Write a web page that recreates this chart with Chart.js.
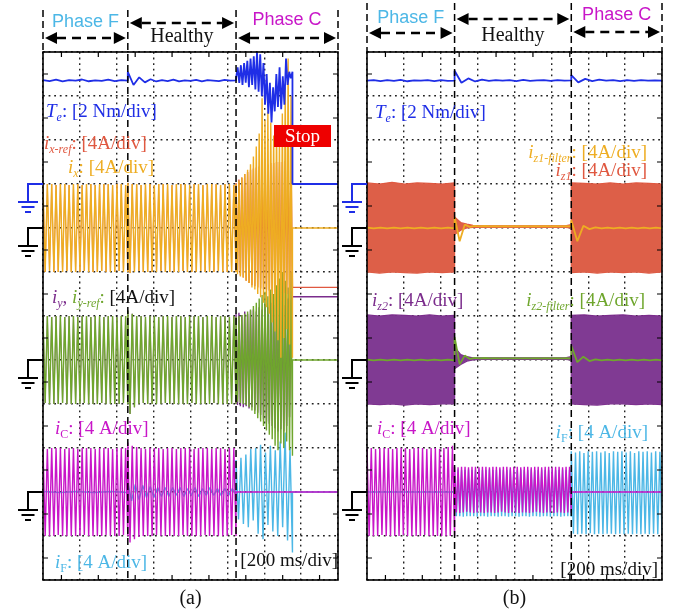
<!DOCTYPE html>
<html>
<head>
<meta charset="utf-8">
<script src="https://cdn.jsdelivr.net/npm/chart.js@4.4.0/dist/chart.umd.min.js"></script>
<style>
  html, body { margin: 0; padding: 0; background: #fff; }
  #wrap { position: relative; width: 678px; height: 615px; }
  canvas { position: absolute; top: 0; }
  #chartA { left: 0; }
  #chartB { left: 340px; }
</style>
</head>
<body>
<div id="wrap">
  <canvas id="chartA" width="340" height="615"></canvas>
  <canvas id="chartB" width="338" height="615"></canvas>
</div>
<script>
// scope time base: 8 div x 200 ms
const timeRange = [0, 1600];
// segment edges (ms): Phase F | Healthy | Phase C | stop
const edgesA = [0, 460, 1047, 1353, 1600];
const edgesB = [0, 475, 1108, 1600];
const regionNames = ["Phase F", "Healthy", "Phase C"];

// ---- (a) Te [Nm]
const teA_F = [4.72, 4.68, 4.74, 4.66, 4.72, 4.7, 4.75, 4.67, 4.71, 4.69, 4.74, 4.68, 4.72, 4.7];
const teA_H = [5.1, 4.5, 4.85, 4.62, 4.76, 4.66, 4.72, 4.68, 4.74, 4.66, 4.71, 4.69, 4.73, 4.67, 4.72, 4.7, 4.68, 4.73, 4.7, 4.71];
const teA_C = [4.8, 5.3, 4.6, 5.4, 4.5, 5.5, 4.6, 5.6, 4.4, 5.7, 4.5, 5.8, 4.3, 6.0, 4.2, 5.9, 4.0, 5.5,
  3.6, 5.0, 3.2, 4.6, 2.8, 4.4, 3.3, 5.0, 3.5, 5.3, 3.4, 4.9, 3.6, 5.7, 4.5, 5.1, 4.8, 5.1];
const teA_S = [0, 0];

// ---- (a) ix / ix-ref [A]
const ixA_F = [3.9, -4.0, 4.0, -3.9, 4.0, -4.0, 3.9, -4.0, 4.0, -4.0,
  4.0, -3.9, 3.9, -4.0, 4.0, -4.0, 4.0, -4.0, 3.9, -3.9,
  4.0, -4.0, 4.0, -4.0, 3.9, -4.0, 4.0, -3.9, 4.0, -4.0,
  4.0, -4.0, 3.9, -4.0, 4.0, -3.9, 4.0, -4.0, 3.9, -4.0];
const ixA_H = [4.1, -4.1, 4.0, -4.0, 4.0, -3.9, 3.9, -4.0, 4.0, -4.0,
  4.0, -4.0, 3.9, -4.0, 4.0, -3.9, 4.0, -4.0, 4.0, -4.0,
  3.9, -4.0, 4.0, -4.0, 4.0, -3.9, 4.0, -4.0, 3.9, -4.0,
  4.0, -4.0, 4.0, -3.9, 3.9, -4.0, 4.0, -4.0, 4.0, -4.0,
  4.0, -3.9, 3.9, -4.0, 4.0, -4.0, 4.0, -4.0, 3.9, -4.0];
const ixA_C = [4.0, -4.2, 4.3, -4.4, 4.6, -4.5, 4.9, -4.8, 5.3, -5.0,
  5.8, -5.4, 6.5, -5.6, 7.4, -6.0, 8.6, -6.3, 11.8, -6.8,
  9.8, -7.2, 10.6, -7.8, 9.6, -8.6, 8.4, -9.4, 9.2, -10.2,
  7.8, -11.8, 10.4, -10.0, 12.8, -9.2, 15.4, -10.6, 12.0, -11.8];
const ixA_S = [0, 0];
const ixRefA_C = [4.1, -4.0, 4.4, -4.3, 4.6, -4.5, 4.9, -4.8, 5.1, -5.0,
  5.3, -5.2, 5.4, -5.3, 5.5, -5.4, 5.6, -5.5, 5.7, -5.6,
  5.8, -5.6, 5.8, -5.7, 5.9, -5.7, 5.9, -5.8, 6.0, -5.8,
  6.0, -5.9, 6.0, -5.9, 6.1, -6.0, 6.1, -6.0, 6.1, -5.4];
const ixRefA_S = [-5.4, -5.4];

// ---- (a) iy / iy-ref [A]
const iyA_F = [4.0, -3.9, 4.0, -4.0, 3.9, -4.0, 4.0, -4.0, 4.0, -3.9,
  3.9, -4.0, 4.0, -4.0, 4.0, -4.0, 3.9, -4.0, 4.0, -3.9,
  4.0, -4.0, 3.9, -4.0, 4.0, -4.0, 4.0, -3.9, 3.9, -4.0,
  4.0, -4.0, 4.0, -4.0, 3.9, -4.0, 4.0, -3.9, 4.0, -4.0];
const iyA_H = [4.5, -4.9, 4.2, -4.3, 4.0, -4.0, 4.0, -3.9, 3.9, -4.0,
  4.0, -4.0, 4.0, -4.0, 3.9, -4.0, 4.0, -3.9, 4.0, -4.0,
  3.9, -4.0, 4.0, -4.0, 4.0, -4.0, 3.9, -4.0, 4.0, -3.9,
  4.0, -4.0, 4.0, -4.0, 3.9, -4.0, 4.0, -4.0, 4.0, -3.9,
  3.9, -4.0, 4.0, -4.0, 4.0, -4.0, 3.9, -4.0, 4.0, -4.0];
const iyA_C = [4.2, -4.1, 4.3, -4.2, 4.1, -4.3, 4.4, -4.2, 4.2, -4.4,
  4.5, -4.3, 4.6, -4.6, 4.4, -4.8, 4.8, -5.0, 4.6, -5.4,
  5.0, -5.6, 4.8, -5.8, 5.2, -6.0, 5.0, -6.2, 5.3, -6.5,
  5.1, -6.3, 5.4, -6.5, 5.0, -6.0, 5.6, -5.2, 5.4, 5.75];
const iyA_S = [5.75, 5.75];
const iyRefA_C = [3.9, -3.8, 4.0, -3.9, 4.1, -4.0, 4.2, -4.1, 4.4, -4.3,
  4.6, -4.6, 4.9, -4.9, 5.2, -5.3, 5.6, -5.6, 5.9, -6.0,
  6.2, -6.4, 5.8, -6.8, 6.4, -7.2, 6.0, -7.8, 6.8, -8.2,
  7.4, -7.6, 8.0, -8.0, 7.2, -7.4, 6.6, -8.2, 8.0, -8.7];
const iyRefA_S = [0, 0];

// ---- (a) iC / iF [A]
const iCA_F = [4.0, -4.0, 3.9, -4.0, 4.0, -4.0, 4.0, -3.9, 4.0, -4.0,
  3.9, -4.0, 4.0, -4.0, 4.0, -4.0, 3.9, -4.0, 4.0, -3.9,
  4.0, -4.0, 4.0, -4.0, 3.9, -4.0, 4.0, -4.0, 4.0, -3.9,
  4.0, -4.0, 3.9, -4.0, 4.0, -4.0, 4.0, -3.9, 4.0, -4.0];
const iCA_H = [4.5, -4.6, 4.2, -4.3, 4.1, -4.1, 4.0, -4.0, 3.9, -4.0,
  4.0, -4.0, 4.0, -3.9, 4.0, -4.0, 3.9, -4.0, 4.0, -4.0,
  4.0, -4.0, 3.9, -4.0, 4.0, -3.9, 4.0, -4.0, 4.0, -4.0,
  3.9, -4.0, 4.0, -4.0, 4.0, -3.9, 4.0, -4.0, 3.9, -4.0,
  4.0, -4.0, 4.0, -4.0, 3.9, -4.0, 4.0, -3.9, 4.0, -4.0];
const iCA_C = [0, 0];
const iCA_S = [0, 0];
const iFA_F = [0.05, -0.05, 0.05, -0.05, 0.05, -0.05];
const iFA_H = [0.9, -0.8, 0.7, -0.7, 0.6, -0.5, 0.5, -0.5, 0.4, -0.4, 0.4, -0.4, 0.4, -0.3, 0.4,
  -0.4, 0.3, -0.3, 0.4, -0.4, 0.3, -0.3, 0.4, -0.3, 0.3, -0.3, 0.3, -0.3, 0.3, -0.2];
const iFA_C = [2.9, -2.5, 3.1, -2.9, 3.4, -3.2, 3.9, -2.6, 4.0, -3.8, 4.3, -4.3,
  3.6, -3.0, 4.2, -3.6, 3.8, -4.0, 4.6, -3.2, 5.4, -4.4, 4.0, -5.5];
const iFA_S = [0, 0];

// ---- (b) Te [Nm]
const teB_F = [4.7, 4.72, 4.68, 4.72, 4.69, 4.73, 4.67, 4.71, 4.7, 4.72, 4.68, 4.72, 4.69, 4.7];
const teB_H = [5.15, 4.6, 4.8, 4.66, 4.74, 4.69, 4.72, 4.7, 4.72, 4.68, 4.73, 4.69, 4.71, 4.72, 4.69, 4.72, 4.7, 4.71];
const teB_C = [4.95, 4.62, 4.78, 4.68, 4.74, 4.7, 4.72, 4.68, 4.72, 4.69, 4.72, 4.7, 4.71, 4.7];

// ---- (b) iz1 envelope (upper / lower) and iz1-filter [A]
const iz1UpB_F = [4.1, 4.0, 4.15, 4.0, 4.1, 4.05, 4.0, 4.1];
const iz1LoB_F = [-4.0, -4.1, -4.0, -4.05, -4.1, -4.0, -4.05, -4.0];
const iz1UpB_H = [1.0, 0.5, 0.35, 0.25, 0.2, 0.2, 0.2, 0.2, 0.2, 0.2, 0.2, 0.2, 0.2, 0.2, 0.2, 0.2, 0.2, 0.2, 0.2, 0.3];
const iz1LoB_H = [-0.6, -0.2, 0.0, 0.05, 0.05, 0.05, 0.05, 0.05, 0.05, 0.05, 0.05, 0.05, 0.05, 0.05, 0.05, 0.05, 0.05, 0.05, 0.05, 0.0];
const iz1UpB_C = [4.1, 4.05, 4.0, 4.1, 4.0, 4.1, 4.05, 4.0];
const iz1LoB_C = [-4.05, -4.0, -4.1, -4.0, -4.05, -4.0, -4.1, -4.0];
const iz1FiltB_F = [0.03, -0.03, 0.04, -0.03, 0.03, -0.03, 0.04, -0.04, 0.03, -0.03, 0.04, -0.03, 0.03, -0.03];
const iz1FiltB_H = [1.0, -1.2, 0.3, 0.1, 0.2, 0.14, 0.18, 0.15, 0.17, 0.15, 0.17, 0.15,
  0.17, 0.15, 0.17, 0.15, 0.17, 0.15, 0.17, 0.15, 0.17, 0.15, 0.17, 0.15];
const iz1FiltB_C = [0.7, -1.2, 0.2, -0.1, 0.06, -0.04, 0.04, -0.03, 0.03, -0.03, 0.03, -0.03, 0.03, -0.03, 0.03, -0.03];

// ---- (b) iz2 envelope (upper / lower) and iz2-filter [A]
const iz2UpB_F = [4.1, 4.0, 4.1, 4.05, 4.0, 4.1, 4.0, 4.05];
const iz2LoB_F = [-4.0, -4.05, -4.0, -4.1, -4.0, -4.05, -4.0, -4.0];
const iz2UpB_H = [1.2, 0.5, 0.3, 0.2, 0.2, 0.2, 0.2, 0.2, 0.2, 0.2, 0.2, 0.2, 0.2, 0.2, 0.2, 0.2, 0.2, 0.2, 0.2, 0.3];
const iz2LoB_H = [-0.8, -0.4, -0.1, 0.0, 0.05, 0.05, 0.05, 0.05, 0.05, 0.05, 0.05, 0.05, 0.05, 0.05, 0.05, 0.05, 0.05, 0.05, 0.05, 0.0];
const iz2UpB_C = [4.05, 4.1, 4.0, 4.05, 4.1, 4.0, 4.05, 4.0];
const iz2LoB_C = [-4.0, -4.05, -4.1, -4.0, -4.0, -4.05, -4.0, -4.05];
const iz2FiltB_F = [0.03, -0.04, 0.03, -0.03, 0.04, -0.03, 0.03, -0.03, 0.03, -0.04, 0.03, -0.03, 0.04, -0.03];
const iz2FiltB_H = [2.1, -0.4, 0.4, 0.1, 0.2, 0.14, 0.18, 0.15, 0.17, 0.15, 0.17, 0.15,
  0.17, 0.15, 0.17, 0.15, 0.17, 0.15, 0.17, 0.15, 0.17, 0.15, 0.17, 0.15];
const iz2FiltB_C = [1.3, -0.2, 0.3, -0.1, 0.06, -0.04, 0.04, -0.03, 0.03, -0.03, 0.03, -0.03, 0.03, -0.03, 0.03, -0.03];

// ---- (b) iC / iF [A]
const iCB_F = [4.0, -4.0, 4.0, -4.0, 3.9, -4.0, 4.0, -3.9, 4.0, -4.0,
  4.0, -4.0, 3.9, -4.0, 4.0, -4.0, 4.0, -3.9, 4.0, -4.0,
  3.9, -4.0, 4.0, -4.0, 4.0, -4.0, 4.0, -3.9, 3.9, -4.0,
  4.0, -4.0, 4.0, -4.0, 3.9, -4.0, 4.0, -4.0, 4.1, -4.0,
  4.2, -4.0];
const iCB_H = [2.3, -1.85, 2.25, -1.9, 2.3, -1.85, 2.3, -1.8, 2.25, -1.85,
  2.3, -1.9, 2.3, -1.85, 2.25, -1.85, 2.3, -1.9, 2.3, -1.85,
  2.25, -1.85, 2.3, -1.9, 2.3, -1.85, 2.25, -1.8, 2.3, -1.85,
  2.3, -1.9, 2.25, -1.85, 2.3, -1.85, 2.3, -1.9, 2.25, -1.85,
  2.3, -1.85, 2.3, -1.9, 2.25, -1.85, 2.3, -1.8, 2.3, -1.85,
  2.25, -1.9, 2.3, -1.85, 2.3, -1.85, 2.25, -1.9, 2.3, -1.85,
  2.3, -1.85, 2.25, -1.9, 2.3, -1.85, 2.3, -1.9];
const iCB_C = [0, 0];
const iFB_F = [0, 0];
const iFB_H = [2.0, -2.2, 2.05, -2.2, 2.0, -2.25, 2.0, -2.2, 2.05, -2.2,
  2.0, -2.2, 2.0, -2.25, 2.05, -2.2, 2.0, -2.2, 2.0, -2.25,
  2.05, -2.2, 2.0, -2.2, 2.0, -2.25, 2.05, -2.2, 2.0, -2.2,
  2.0, -2.25, 2.05, -2.2, 2.0, -2.2, 2.0, -2.25, 2.05, -2.2,
  2.0, -2.2, 2.0, -2.25, 2.05, -2.2, 2.0, -2.2, 2.0, -2.25,
  2.05, -2.2, 2.0, -2.2, 2.0, -2.25, 2.05, -2.2, 2.0, -2.2,
  2.0, -2.25, 2.05, -2.2, 2.0, -2.2, 2.0, -2.25];
const iFB_C = [3.7, -3.8, 3.6, -3.85, 3.7, -3.8, 3.55, -3.85, 3.7, -3.75,
  3.65, -3.85, 3.7, -3.8, 3.6, -3.85, 3.7, -3.8, 3.55, -3.8,
  3.7, -3.85, 3.65, -3.8, 3.7, -3.85, 3.6, -3.8, 3.7, -3.85,
  3.55, -3.8, 3.7, -3.85, 3.65, -3.8, 3.7, -3.85, 3.6, -3.8,
  3.7, -3.85, 3.65, -3.8];

const BLUE = "#1f2ee6", ORANGE = "#eead22", RED = "#e05840", PURPLE = "#7b2c8c",
  GREEN = "#6fa62d", MAGENTA = "#c816c8", SKY = "#4cb7e6", BLACK = "#111";

// channel ground levels in divisions from the bottom (12 div screen)
const GND_TE = 9, GND_X = 8, GND_Y = 5, GND_CF = 2;

function trace(edges, parts, ground, perDiv) {
  const pts = [];
  parts.forEach((vals, k) => {
    const t0 = edges[k], t1 = edges[k + 1], n = vals.length;
    vals.forEach((v, i) => {
      pts.push({ x: t0 + ((t1 - t0) * i) / (n - 1), y: ground + v / perDiv });
    });
  });
  return pts;
}

function line(data, color, width, extra) {
  return Object.assign({
    data,
    borderColor: color,
    backgroundColor: color,
    borderWidth: width || 1.4,
    borderJoinStyle: "bevel",
    pointRadius: 0,
    tension: 0,
    fill: false,
  }, extra || {});
}

// traces hidden under another one until the fault: keep them thin there
const thinBefore = (t) => ({
  segment: { borderWidth: (c) => (c.p0.parsed.x < t ? 0.7 : 1.4) },
});

const R = (t, c, style) => ({ t, c, it: (style || "").includes("i"), sub: (style || "").includes("s") });

function richText(ctx, runs, x, y, align) {
  const fontOf = (r) => (r.it ? "italic " : "") + (r.sub ? 12 : 19) + 'px "Liberation Serif"';
  let w = 0;
  runs.forEach((r) => { ctx.font = fontOf(r); w += ctx.measureText(r.t).width; });
  let cx = align === "right" ? x - w : x;
  ctx.textBaseline = "alphabetic";
  ctx.textAlign = "left";
  runs.forEach((r) => {
    ctx.font = fontOf(r);
    ctx.fillStyle = r.c;
    ctx.fillText(r.t, cx, y + (r.sub ? 4 : 0));
    cx += ctx.measureText(r.t).width;
  });
}

function arrow(ctx, x0, x1, y) {
  const h = 12, w = 6;
  ctx.save();
  ctx.strokeStyle = "#000";
  ctx.lineWidth = 2.4;
  ctx.setLineDash([9, 6]);
  ctx.beginPath(); ctx.moveTo(x0 + h, y); ctx.lineTo(x1 - h, y); ctx.stroke();
  ctx.setLineDash([]);
  ctx.fillStyle = "#000";
  ctx.beginPath(); ctx.moveTo(x0, y); ctx.lineTo(x0 + h, y - w); ctx.lineTo(x0 + h, y + w); ctx.closePath(); ctx.fill();
  ctx.beginPath(); ctx.moveTo(x1, y); ctx.lineTo(x1 - h, y - w); ctx.lineTo(x1 - h, y + w); ctx.closePath(); ctx.fill();
  ctx.restore();
}

function ground(ctx, xr, y, color) {
  const xl = xr - 15;
  ctx.save();
  ctx.strokeStyle = color;
  ctx.lineWidth = 2;
  ctx.beginPath();
  ctx.moveTo(xr, y); ctx.lineTo(xl, y); ctx.lineTo(xl, y + 18);
  ctx.moveTo(xl - 10, y + 18); ctx.lineTo(xl + 10, y + 18);
  ctx.moveTo(xl - 6.5, y + 23); ctx.lineTo(xl + 6.5, y + 23);
  ctx.moveTo(xl - 3, y + 28); ctx.lineTo(xl + 3, y + 28);
  ctx.stroke();
  ctx.restore();
}

function scopePlugin(cfg) {
  return {
    id: "scope",
    afterDatasetsDraw(chart) {
      const { ctx, chartArea: a, scales } = chart;
      const xs = scales.x, ys = scales.y;
      ctx.save();
      // frame
      ctx.strokeStyle = "#000";
      ctx.lineWidth = 1.6;
      ctx.strokeRect(a.left, a.top, a.right - a.left, a.bottom - a.top);
      // minor ticks at half divisions
      ctx.lineWidth = 1.2;
      ctx.beginPath();
      for (let t = 100; t < 1600; t += 200) {
        const px = xs.getPixelForValue(t);
        ctx.moveTo(px, a.bottom); ctx.lineTo(px, a.bottom - 5);
        ctx.moveTo(px, a.top); ctx.lineTo(px, a.top + 5);
      }
      for (let d = 0.5; d < 12; d += 1) {
        const py = ys.getPixelForValue(d);
        ctx.moveTo(a.left, py); ctx.lineTo(a.left + 5, py);
        ctx.moveTo(a.right, py); ctx.lineTo(a.right - 5, py);
      }
      ctx.stroke();
      // region boundaries
      const bx = cfg.edges.slice(0, 4).map((t) => xs.getPixelForValue(t));
      bx[3] = a.right;
      ctx.lineWidth = 1.5;
      ctx.setLineDash([7, 4]);
      ctx.beginPath();
      [bx[1], bx[2]].forEach((px) => { ctx.moveTo(px, cfg.topY); ctx.lineTo(px, a.bottom); });
      [a.left, a.right].forEach((px) => { ctx.moveTo(px, cfg.topY); ctx.lineTo(px, a.top); });
      ctx.stroke();
      ctx.setLineDash([]);
      // region arrows and names
      for (let k = 0; k < 3; k++) {
        arrow(ctx, bx[k] + 2, bx[k + 1] - 2, cfg.arrowY[k]);
        const cx = (bx[k] + bx[k + 1]) / 2;
        ctx.textAlign = "center";
        ctx.textBaseline = "middle";
        if (k === 1) {
          ctx.font = '20px "Liberation Serif"';
          ctx.fillStyle = BLACK;
        } else {
          ctx.font = '18px "Liberation Sans"';
          ctx.fillStyle = k === 0 ? SKY : MAGENTA;
        }
        ctx.fillText(regionNames[k], cx, cfg.nameY[k]);
      }
      // ground markers
      ground(ctx, a.left, ys.getPixelForValue(GND_TE), BLUE);
      [GND_X, GND_Y, GND_CF].forEach((g) => ground(ctx, a.left, ys.getPixelForValue(g), "#000"));
      // channel labels
      cfg.labels.forEach((l) => richText(ctx, l.runs, l.x, l.y, l.align));
      // stop marker
      if (cfg.stop) {
        const s = cfg.stop;
        ctx.fillStyle = "#ee0000";
        ctx.fillRect(s.x, s.y, s.w, s.h);
        ctx.fillStyle = "#fff";
        ctx.font = '19px "Liberation Serif"';
        ctx.textAlign = "center";
        ctx.textBaseline = "middle";
        ctx.fillText("Stop", s.x + s.w / 2, s.y + s.h / 2 + 1);
      }
      // caption
      ctx.fillStyle = BLACK;
      ctx.font = '20px "Liberation Serif"';
      ctx.textAlign = "center";
      ctx.textBaseline = "alphabetic";
      ctx.fillText(cfg.caption, (a.left + a.right) / 2, 604);
      ctx.restore();
    },
  };
}

function makeChart(id, datasets, padding, cfg) {
  const gridOpts = { color: "#222", lineWidth: 1.4, drawTicks: false };
  return new Chart(document.getElementById(id), {
    type: "line",
    data: { datasets },
    options: {
      responsive: false,
      animation: false,
      devicePixelRatio: 1,
      events: [],
      layout: { padding },
      plugins: { legend: { display: false }, tooltip: { enabled: false } },
      scales: {
        x: {
          type: "linear", min: timeRange[0], max: timeRange[1],
          ticks: { display: false, stepSize: 200 },
          grid: gridOpts, border: { display: false, dash: [1.8, 3.8] },
        },
        y: {
          min: 0, max: 12,
          ticks: { display: false, stepSize: 1 },
          grid: gridOpts, border: { display: false, dash: [1.8, 3.8] },
        },
      },
    },
    plugins: [scopePlugin(cfg)],
  });
}

// ---------- panel (a)
const dsA = [
  line(trace(edgesA, [teA_F, teA_H, teA_C, teA_S], GND_TE, 2), BLUE, 1.8),
  line(trace(edgesA, [ixA_F, ixA_H, ixA_C, ixA_S], GND_X, 4), ORANGE),
  line(trace(edgesA, [ixA_F, ixA_H, ixRefA_C, ixRefA_S], GND_X, 4), RED, 1.4, thinBefore(edgesA[2])),
  line(trace(edgesA, [iyA_F, iyA_H, iyRefA_C, iyRefA_S], GND_Y, 4), GREEN),
  line(trace(edgesA, [iyA_F, iyA_H, iyA_C, iyA_S], GND_Y, 4), PURPLE, 1.4, thinBefore(edgesA[2])),
  line(trace(edgesA, [iCA_F, iCA_H, iCA_C, iCA_S], GND_CF, 4), MAGENTA),
  line(trace(edgesA, [iFA_F, iFA_H, iFA_C, iFA_S], GND_CF, 4), SKY),
];

makeChart("chartA", dsA, { left: 43, right: 2, top: 52, bottom: 35 }, {
  edges: edgesA, topY: 10, arrowY: [38, 23, 38], nameY: [22, 37, 20],
  stop: { x: 274, y: 125, w: 57, h: 22 },
  caption: "(a)",
  labels: [
    { x: 46, y: 117, runs: [R("T", BLUE, "i"), R("e", BLUE, "is"), R(": [2 Nm/div]", BLUE)] },
    { x: 44, y: 149, runs: [R("i", RED, "i"), R("x-ref", RED, "is"), R(": [4A/div]", RED)] },
    { x: 68, y: 173, runs: [R("i", ORANGE, "i"), R("x", ORANGE, "is"), R(": [4A/div]", ORANGE)] },
    { x: 52, y: 303, runs: [R("i", PURPLE, "i"), R("y", PURPLE, "is"), R(", ", PURPLE),
      R("i", GREEN, "i"), R("y-ref", GREEN, "is"), R(": ", GREEN), R("[4A/div]", BLACK)] },
    { x: 55, y: 434, runs: [R("i", MAGENTA, "i"), R("C", MAGENTA, "s"), R(": [4 A/div]", MAGENTA)] },
    { x: 55, y: 568, runs: [R("i", SKY, "i"), R("F", SKY, "s"), R(": [4 A/div]", SKY)] },
    { x: 338, y: 566, align: "right", runs: [R("[200 ms/div]", BLACK)] },
  ],
});

// ---------- panel (b)
const dsB = [
  line(trace(edgesB, [teB_F, teB_H, teB_C], GND_TE, 2), BLUE, 1.8),
  line(trace(edgesB, [iz1FiltB_F, iz1FiltB_H, iz1FiltB_C], GND_X, 4), ORANGE, 1.8),
  line(trace(edgesB, [iz1UpB_F, iz1UpB_H, iz1UpB_C], GND_X, 4), RED, 1.2, { fill: "+1", backgroundColor: "#dd5f48" }),
  line(trace(edgesB, [iz1LoB_F, iz1LoB_H, iz1LoB_C], GND_X, 4), RED, 1.2),
  line(trace(edgesB, [iz2FiltB_F, iz2FiltB_H, iz2FiltB_C], GND_Y, 4), GREEN, 1.8),
  line(trace(edgesB, [iz2UpB_F, iz2UpB_H, iz2UpB_C], GND_Y, 4), PURPLE, 1.2, { fill: "+1", backgroundColor: "#803a93" }),
  line(trace(edgesB, [iz2LoB_F, iz2LoB_H, iz2LoB_C], GND_Y, 4), PURPLE, 1.2),
  line(trace(edgesB, [iCB_F, iCB_H, iCB_C], GND_CF, 4), MAGENTA),
  line(trace(edgesB, [iFB_F, iFB_H, iFB_C], GND_CF, 4), SKY),
];

makeChart("chartB", dsB, { left: 27, right: 16, top: 52, bottom: 35 }, {
  edges: edgesB, topY: 3, arrowY: [33, 19, 32], nameY: [18, 36, 15],
  stop: null,
  caption: "(b)",
  labels: [
    { x: 35, y: 118, runs: [R("T", BLUE, "i"), R("e", BLUE, "is"), R(": [2 Nm/div]", BLUE)] },
    { x: 307, y: 158, align: "right", runs: [R("i", ORANGE, "i"), R("z1-filter", ORANGE, "is"), R(": [4A/div]", ORANGE)] },
    { x: 307, y: 176, align: "right", runs: [R("i", RED, "i"), R("z1", RED, "is"), R(": [4A/div]", RED)] },
    { x: 32, y: 306, runs: [R("i", PURPLE, "i"), R("z2", PURPLE, "is"), R(": [4A/div]", PURPLE)] },
    { x: 305, y: 306, align: "right", runs: [R("i", GREEN, "i"), R("z2-filter", GREEN, "is"), R(": [4A/div]", GREEN)] },
    { x: 37, y: 434, runs: [R("i", MAGENTA, "i"), R("C", MAGENTA, "s"), R(": [4 A/div]", MAGENTA)] },
    { x: 308, y: 438, align: "right", runs: [R("i", SKY, "i"), R("F", SKY, "s"), R(": [4 A/div]", SKY)] },
    { x: 318, y: 575, align: "right", runs: [R("[200 ms/div]", BLACK)] },
  ],
});
</script>
</body>
</html>
